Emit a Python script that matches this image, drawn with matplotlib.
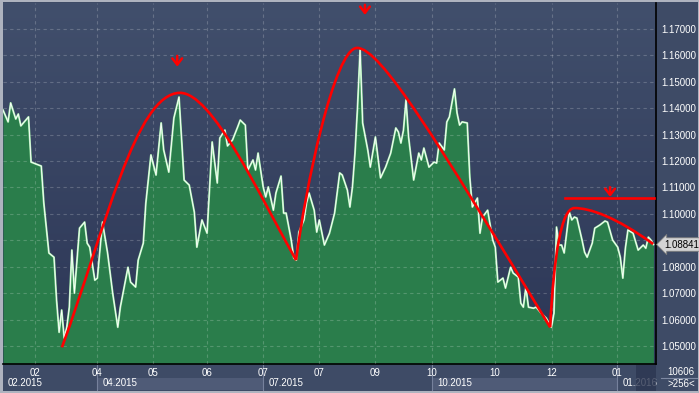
import numpy as np
import matplotlib
matplotlib.use('Agg')
import matplotlib.pyplot as plt
import matplotlib.transforms as mtransforms
from matplotlib.path import Path
from matplotlib.patches import PathPatch, Rectangle
from matplotlib.colors import LinearSegmentedColormap

# daily closes (bar index, price)
bar_idx = [0, 2, 3, 5, 6, 7, 10, 11, 15, 16, 18, 20, 21, 22, 23, 24, 25, 26, 27, 28,
           29, 30, 32, 33, 34, 36, 37, 39, 41, 43, 45, 46, 49, 50, 52, 53, 55, 56, 58, 60,
           62, 63, 65, 67, 69, 71, 73, 75, 76, 78, 80, 82, 84, 85, 87, 88, 90, 92, 93, 95,
           96, 98, 99, 100, 102, 103, 104, 106, 107, 109, 110, 111, 113, 114, 115, 116, 118, 119, 120, 122,
           123, 124, 126, 128, 130, 132, 133, 135, 136, 137, 138, 139, 140, 141, 143, 144, 146, 148, 150, 152,
           154, 155, 156, 157, 158, 159, 161, 163, 164, 165, 167, 169, 170, 171, 173, 174, 175, 176, 177, 178,
           179, 180, 182, 183, 184, 186, 187, 188, 190, 192, 193, 194, 196, 197, 199, 200, 202, 203, 204, 205,
           206, 208, 209, 211, 213, 215, 216, 217, 218, 219, 220, 222, 223, 224, 225, 227, 228, 229, 231, 232,
           234, 236, 237, 239, 241, 242, 243, 244, 245, 247, 249, 251, 252, 253, 254, 255]
close = [1.1393, 1.1348, 1.1420, 1.1359, 1.1378, 1.1333, 1.1367, 1.1196, 1.1181, 1.1041, 1.0852, 1.0836, 1.0674, 1.0552, 1.0636, 1.0530, 1.0571, 1.0647, 1.0863, 1.0700,
         1.0825, 1.0946, 1.0969, 1.0889, 1.0874, 1.0749, 1.0757, 1.0969, 1.0852, 1.0700, 1.0571, 1.0647, 1.0798, 1.0742, 1.0723, 1.0825, 1.0889, 1.1041, 1.1223, 1.1147,
         1.1344, 1.1242, 1.1158, 1.1363, 1.1442, 1.1128, 1.1109, 1.1007, 1.0874, 1.0977, 1.0927, 1.1272, 1.1117, 1.1287, 1.1317, 1.1257, 1.1280, 1.1329, 1.1355, 1.1336,
         1.1166, 1.1204, 1.1166, 1.1230, 1.1102, 1.1064, 1.1102, 1.1014, 1.1079, 1.1143, 1.1003, 1.1003, 1.0901, 1.0833, 1.0825, 1.0931, 1.0977, 1.1041, 1.1079, 1.1014,
         1.0931, 1.0977, 1.0882, 1.0927, 1.1003, 1.1155, 1.1147, 1.1090, 1.1026, 1.1102, 1.1230, 1.1405, 1.1620, 1.1344, 1.1242, 1.1177, 1.1291, 1.1136, 1.1177, 1.1230,
         1.1325, 1.1310, 1.1268, 1.1317, 1.1431, 1.1291, 1.1128, 1.1230, 1.1204, 1.1249, 1.1177, 1.1196, 1.1192, 1.1268, 1.1242, 1.1348, 1.1367, 1.1420, 1.1473, 1.1382,
         1.1336, 1.1348, 1.1344, 1.1139, 1.1026, 1.1060, 1.0927, 1.0988, 1.1014, 1.0901, 1.0874, 1.0742, 1.0757, 1.0719, 1.0798, 1.0776, 1.0761, 1.0662, 1.0647, 1.0723,
         1.0647, 1.0643, 1.0647, 1.0624, 1.0605, 1.0571, 1.0624, 1.0950, 1.0882, 1.0882, 1.0852, 1.1007, 1.0977, 1.0988, 1.0984, 1.0901, 1.0855, 1.0836, 1.0889, 1.0946,
         1.0958, 1.0973, 1.0969, 1.0901, 1.0874, 1.0836, 1.0757, 1.0870, 1.0939, 1.0927, 1.0863, 1.0882, 1.0870, 1.0912, 1.0901, 1.08841]

last_price = 1.08841
title = "EUR/USD 1D High = 1.17137 Low = 1.04621"

y_ticks = [1.05, 1.06, 1.07, 1.08, 1.09, 1.10, 1.11, 1.12, 1.13, 1.14, 1.15, 1.16, 1.17]
x_tick_pos = [12.5, 36.9, 58.8, 80.0, 102.0, 123.9, 145.9, 168.2, 192.9, 215.3, 240.8]
x_tick_lab = ['02', '04', '05', '06', '07', '07', '09', '10', '10', '12', '01']
period_pos = [0.0, 36.9, 102.0, 168.2, 240.8]
period_lab = ['02.2015', '04.2015', '07.2015', '10.2015', '01.2016']

# hand-drawn red trend curves (cubic bezier control points, bar / price)
curve_a = [(23.1, 1.0495), (40, 1.094), (52, 1.1458), (69.4, 1.1458),
           (82, 1.1458), (100, 1.108), (114.9, 1.0825)]
curve_b = [(114.9, 1.0825), (118.5, 1.110), (130, 1.1628), (138.8, 1.1628),
           (148, 1.1628), (170, 1.128), (214.5, 1.0571)]
curve_c = [(214.5, 1.0571), (216, 1.085), (219, 1.1022), (224, 1.1022),
           (230, 1.1022), (240, 1.099), (254.9, 1.0886)]
resist_x = [220.4, 255.3]
resist_y = 1.1060
arrows = [(68.3, 1.1598, 1.1557), (141.9, 1.1791, 1.1753), (238.0, 1.1101, 1.1064)]

panel = '#3e4b66'
font = 'Liberation Sans'

fig = plt.figure(figsize=(6.99, 3.93), dpi=100)
fig.patch.set_facecolor(panel)

# overlay axes in pixel units for the frame / axis strips
ov = fig.add_axes([0, 0, 1, 1], zorder=0)
ov.set_xlim(0, 699)
ov.set_ylim(393, 0)
ov.axis('off')

ax = fig.add_axes([3 / 699, 29 / 393, 653 / 699, 361 / 393], zorder=1)
ylo, yhi = 1.0432, 1.1798
ax.set_xlim(0, 256)
ax.set_ylim(ylo, yhi)

# gradient background
cmap = LinearSegmentedColormap.from_list('bg', ['#2c3656', '#414f6c'])
grad = np.linspace(0, 1, 256).reshape(-1, 1)
ax.imshow(grad, cmap=cmap, origin='lower', extent=[0, 256, ylo, yhi],
          aspect='auto', zorder=0)

ax.fill_between(bar_idx, close, ylo, color='#2a7d4b', lw=0, zorder=1)
ax.plot(bar_idx, close, color='#9fe8a8', lw=1.4, zorder=2)
ax.plot(bar_idx, close, color='white', lw=0.6, zorder=2.1)

ax.set_axisbelow(False)
ax.grid(True, color='white', alpha=0.2, ls=(0, (3, 3)), lw=0.8)

for pts in (curve_a, curve_b, curve_c):
    codes = [Path.MOVETO] + [Path.CURVE4] * (len(pts) - 1)
    ax.add_patch(PathPatch(Path(pts, codes), fill=False, ec='red', lw=1.9, zorder=4))
ax.plot(resist_x, [resist_y, resist_y], color='red', lw=1.9, zorder=4)
for xa, ytop, ytip in arrows:
    ax.annotate('', xy=(xa, ytip), xytext=(xa, ytop), annotation_clip=False,
                arrowprops=dict(arrowstyle='->,head_length=0.45,head_width=0.35',
                                color='red', lw=1.8, mutation_scale=10,
                                shrinkA=0, shrinkB=0), zorder=5)

# axes styling
for s in ('top', 'left'):
    ax.spines[s].set_visible(False)
for s in ('right', 'bottom'):
    ax.spines[s].set_color('black')
    ax.spines[s].set_linewidth(1.2)
ax.yaxis.tick_right()
ax.set_yticks(y_ticks)
# the 1.09 label sits under the current-price tag
ax.set_yticklabels(['' if abs(v - 1.09) < 1e-9 else '%.5f' % v for v in y_ticks],
                   fontsize=7, family=font, color='white')
ax.set_xticks(x_tick_pos)
ax.set_xticklabels(x_tick_lab, fontsize=7, family=font, color='white')
ax.tick_params(length=0, pad=3)
ax.tick_params(axis='y', pad=3.5)

# current price tag
tag = mtransforms.blended_transform_factory(ax.transAxes, ax.transData)
ax.text(1.012, last_price, '%.5f' % last_price, transform=tag, fontsize=7, family=font,
        color='black', va='center', ha='left', zorder=10, clip_on=False,
        bbox=dict(boxstyle='larrow,pad=0.18', fc='#d4d4d4', ec='#7c7c7c', lw=0.6))

# second row of the time axis
tr = mtransforms.blended_transform_factory(ax.transData, ov.transData)
for x0, x1 in ((period_pos[1], period_pos[2]), (period_pos[3], period_pos[4])):
    ov.add_patch(Rectangle((x0, 377.5), x1 - x0, 12.5, transform=tr, fc='#4f5b77',
                           ec='none', clip_on=False))
for xp in period_pos[1:]:
    ov.plot([xp, xp], [365, 390], transform=tr, color='#76819c', lw=0.8, clip_on=False)
for xp, lab in zip(period_pos, period_lab):
    ov.text(xp + 2, 383.5, lab, transform=tr, fontsize=7, family=font, color='white',
            va='center', ha='left', clip_on=False)
ov.add_patch(Rectangle((248.2, 365), 256 - 248.2, 25.5, transform=tr, fc='#2c3651',
                       alpha=0.8, ec='none', clip_on=False, zorder=5))

# right-bottom counter
ov.text(681, 372, '10606', fontsize=7, family=font, color='white', ha='center', va='center')
ov.plot([661, 697], [378, 378], color='#7e89a2', lw=0.8)
ov.text(681, 384, '>256<', fontsize=7, family=font, color='white', ha='center', va='center')

ov.text(4, 8.5, title, fontsize=7, family=font, color='white', ha='left', va='center',
        zorder=6)

# outer frame
fc = '#aeb3bf'
ov.add_patch(Rectangle((0, 0), 2.5, 393, fc=fc, ec='none'))
ov.add_patch(Rectangle((0, 0), 699, 2, fc=fc, ec='none'))
ov.add_patch(Rectangle((0, 390.5), 699, 2.5, fc=fc, ec='none'))
ov.add_patch(Rectangle((697.8, 0), 1.2, 393, fc=fc, ec='none'))

fig.savefig('out.png', dpi=100, facecolor=fig.get_facecolor())
